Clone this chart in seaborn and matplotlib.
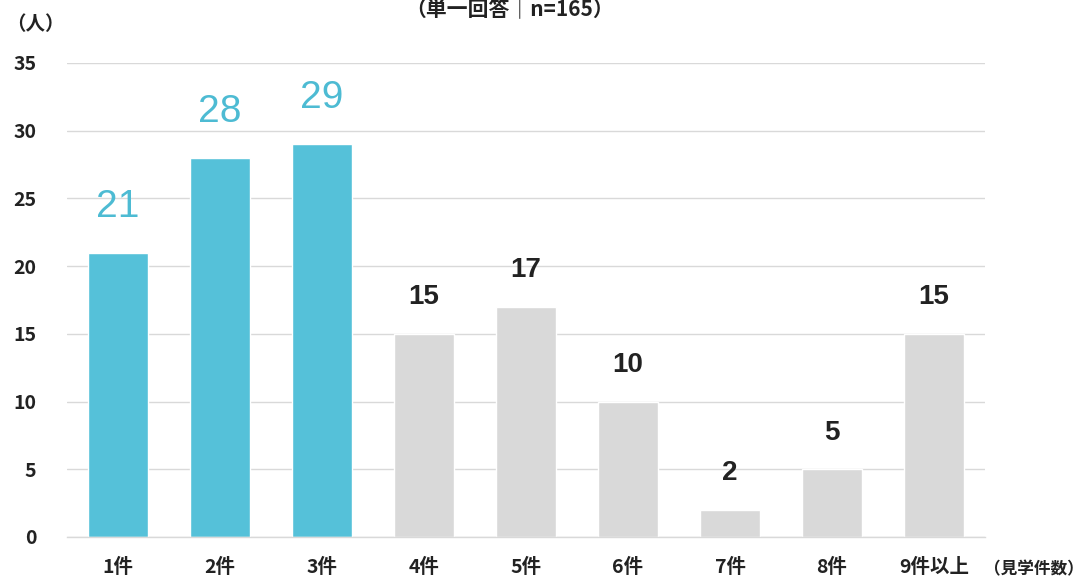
import matplotlib
matplotlib.use("Agg")
import matplotlib.pyplot as plt
import seaborn as sns
import pandas as pd

categories = ["1件", "2件", "3件", "4件", "5件", "6件", "7件", "8件", "9件以上"]
values = [21, 28, 29, 15, 17, 10, 2, 5, 15]
highlight = [True, True, True, False, False, False, False, False, False]
yticks = [0, 5, 10, 15, 20, 25, 30, 35]

BLUE = "#55C1D9"
BLUE_TXT = "#4DBBD3"
GREY = "#D9D9D9"

sns.set_theme(style="white")
plt.rcParams['font.family'] = ['Noto Sans CJK JP', 'DejaVu Sans']

df = pd.DataFrame({"cat": categories, "val": values})
palette = {c: (BLUE if h else GREY) for c, h in zip(categories, highlight)}

fig = plt.figure(figsize=(10.88, 5.83), dpi=100)
ax = fig.add_axes([67/1088, 1-537/583, (985-67)/1088, (537-63)/583])
sns.barplot(data=df, x="cat", y="val", hue="cat", palette=palette, legend=False,
            width=0.59, ax=ax, saturation=1)
ax.set_xlim(-0.5, 8.5)
ax.set_ylim(0, 35)
ax.set_yticks(yticks)
ax.yaxis.grid(True, color="#D9D9D9", linewidth=1)
ax.set_axisbelow(True)
for s in ["top", "right", "left"]:
    ax.spines[s].set_visible(False)
ax.spines["bottom"].set_color("#D9D9D9")
ax.spines["bottom"].set_linewidth(1)
ax.set_xlabel("")
ax.set_ylabel("")
ax.tick_params(axis="both", length=0)
ax.tick_params(axis="x", pad=15)
ax.tick_params(axis="y", pad=22)
for lab in ax.get_xticklabels() + ax.get_yticklabels():
    lab.set_fontweight("bold")
    lab.set_fontsize(14)
    lab.set_color("#222222")

for i, (v, h) in enumerate(zip(values, highlight)):
    if h:
        ax.annotate(str(v), (i, v), xytext=(0, 20), textcoords="offset points",
                    ha="center", va="bottom", fontsize=28, color=BLUE_TXT,
                    family=['Liberation Sans', 'DejaVu Sans'])
    else:
        ax.annotate(str(v), (i, v), xytext=(0, 17), textcoords="offset points",
                    ha="center", va="bottom", fontsize=20, color="#222222",
                    fontweight="bold", family=['Liberation Sans', 'DejaVu Sans'])

fig.text(510/1088, 1-9/583, "（単一回答｜n=165）", ha="center", va="center",
         fontsize=15, fontweight="bold", color="#222222")
fig.text(6/1088, 1-25/583, "（人）", ha="left", va="center",
         fontsize=14, fontweight="bold", color="#222222")
fig.text(1084/1088, 1-569/583, "（見学件数）", ha="right", va="center",
         fontsize=12, fontweight="bold", color="#222222")

fig.savefig("out.png", dpi=100)
